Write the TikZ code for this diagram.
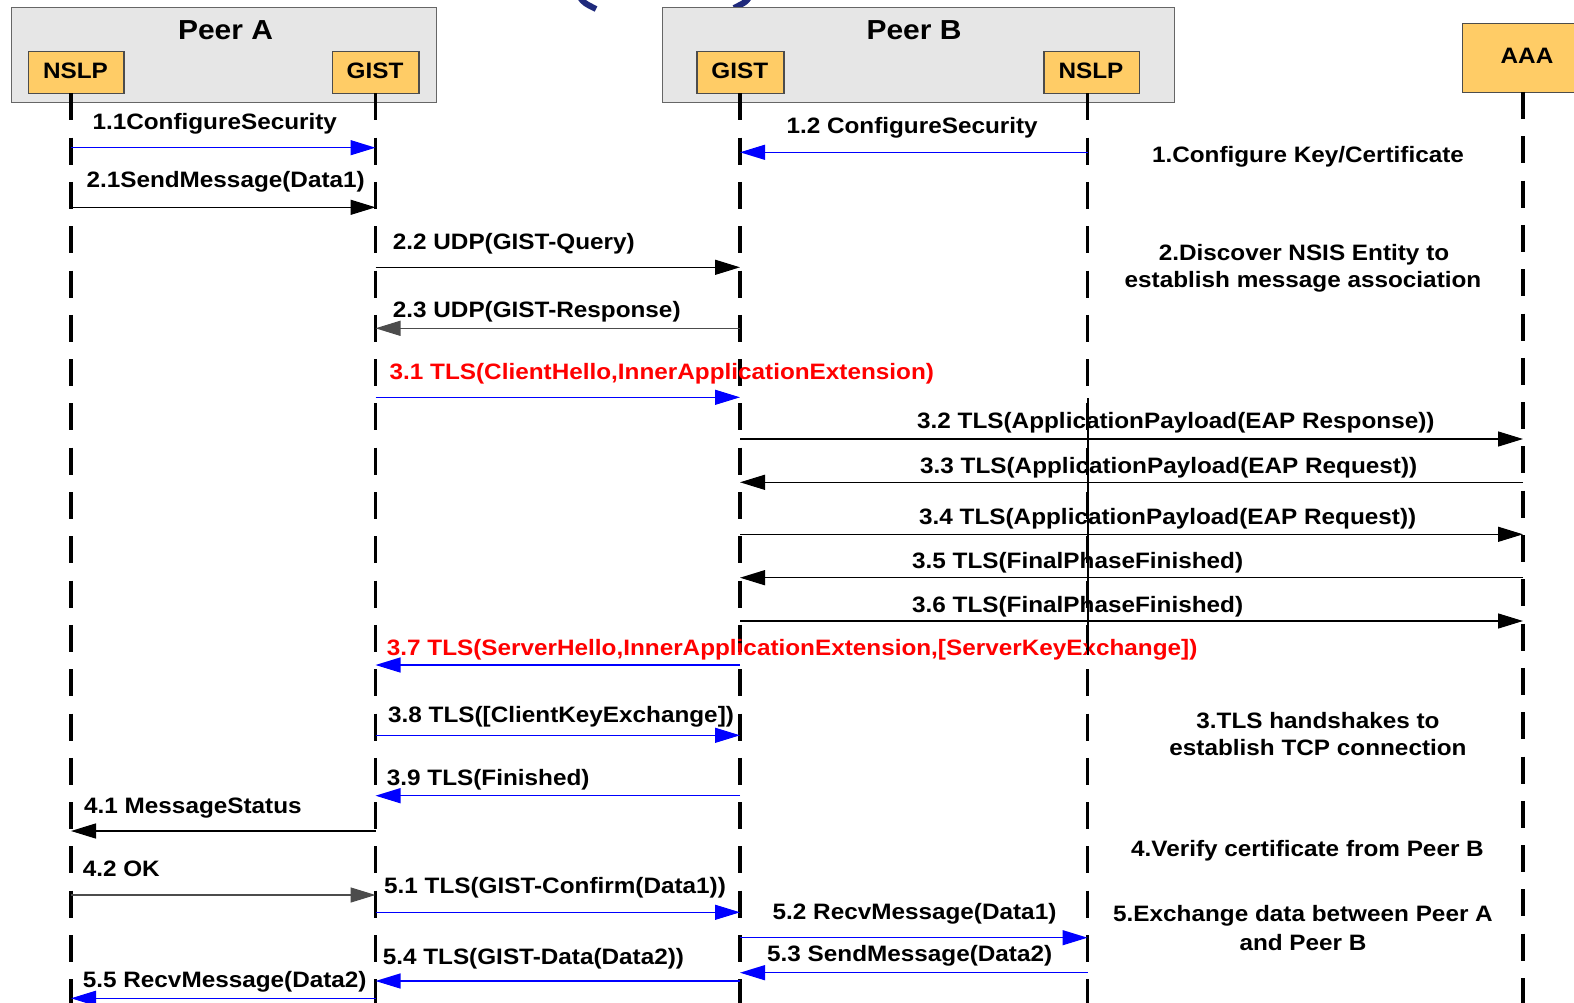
\documentclass[tikz,border=0pt]{standalone}
\usepackage{fontspec}
\setmainfont{Liberation Sans}[FakeStretch=1.09]
\usetikzlibrary{arrows.meta}
\definecolor{peerfill}{HTML}{E6E6E6}
\definecolor{entityfill}{HTML}{FFCC66}
\definecolor{navy}{HTML}{1F2A7C}
\begin{document}
\begin{tikzpicture}[x=1pt,y=-1pt,
  font=\fontsize{22.3}{26}\selectfont\bfseries,
  peer/.style={draw=black!60, line width=1.2pt, fill=peerfill, inner sep=0pt, anchor=north west},
  entity/.style={draw=black!70, line width=1.2pt, fill=entityfill, inner sep=0pt, anchor=north west},
  lifeline/.style={line width=3.2pt, dash pattern=on 27pt off 17.3pt},
  msg/.style={line width=1.4pt, -{Triangle[length=25pt,width=15pt]}},
  greymsg/.style={msg, black!70},
  sec/.style={line width=1.3pt, blue, -{Triangle[length=25pt,width=15pt]}},
  lbl/.style={anchor=base west, inner sep=0pt},
  redlbl/.style={lbl, red},
  note/.style={anchor=base, inner sep=0pt},
  head/.style={note, font=\fontsize{27.5}{32}\selectfont\bfseries}]

\useasboundingbox (0,0) rectangle (1574,1003);
\fill[white] (0,0) rectangle (1574,1003);

% bottom ends of the brackets of a heading above the frame
\draw[navy, line width=6pt] (579,-4) .. controls (584,3) .. (596,9);
\draw[navy, line width=6pt] (750,-4) .. controls (746,2) .. (734,8);

% peers and entities
\node[peer, minimum width=425.3pt, minimum height=94.4pt] (peerA) at (10.7,7.3) {};
\node[peer, minimum width=512pt, minimum height=95pt] (peerB) at (662,7.3) {};
\node[head] (peerAt) at (225.5,39.3) {Peer A};
\node[head] (peerBt) at (914,40) {Peer B};

\node[entity, minimum width=95.6pt, minimum height=42.6pt] (nslpA) at (27.7,50.7) {};
\node[entity, minimum width=86.6pt, minimum height=42.6pt] (gistA) at (331.7,50.7) {};
\node[entity, minimum width=87.1pt, minimum height=42.6pt] (gistB) at (696.3,50.7) {};
\node[entity, minimum width=95.3pt, minimum height=42.6pt] (nslpB) at (1043.4,50.7) {};
\node[entity, minimum width=130pt, minimum height=69pt] (aaa) at (1462,23) {};
\node[note] (nslpAt) at (75.5,78.3) {NSLP};
\node[note] (gistAt) at (375,78.3) {GIST};
\node[note] (gistBt) at (739.8,78.3) {GIST};
\node[note] (nslpBt) at (1091,78.3) {NSLP};
\node[note] (aaat) at (1527,64) {AAA};

% lifelines
\coordinate (NA) at (71,93.3);
\coordinate (GA) at (375.5,93.3);
\coordinate (GB) at (740,93.3);
\coordinate (NB) at (1087.5,93.3);
\coordinate (AA) at (1523,92);
\coordinate (bot) at (0,1010);
\foreach \l in {NA,GA,GB,NB,AA}
  \draw[lifeline] (\l) -- (\l |- bot);

% step 1
\node[lbl] (l11) at (92.3,130) {1.1ConfigureSecurity};
\draw[sec] (NA |- 0,147.7) -- (GA |- 0,147.7);
\node[lbl] (l12) at (786.3,133.3) {1.2 ConfigureSecurity};
\draw[sec] (NB |- 0,152.3) -- (GB |- 0,152.3);
\node[note] (n1) at (1308,163) {1.Configure Key/Certificate};

% step 2
\node[lbl] (l21) at (86.3,188) {2.1SendMessage(Data1)};
\draw[msg] (NA |- 0,207.3) -- (GA |- 0,207.3);
\node[lbl] (l22) at (392.7,249) {2.2 UDP(GIST-Query)};
\draw[msg] (GA |- 0,267.3) -- (GB |- 0,267.3);
\node[lbl] (l23) at (392.7,317.5) {2.3 UDP(GIST-Response)};
\draw[greymsg] (GB |- 0,328.3) -- (GA |- 0,328.3);
\node[note] (n2a) at (1304,260) {2.Discover NSIS Entity to};
\node[note] (n2b) at (1303,287.3) {establish message association};

% step 3
\node[redlbl] (l31) at (389.5,379) {3.1 TLS(ClientHello,InnerApplicationExtension)};
\draw[sec] (GA |- 0,397.3) -- (GB |- 0,397.3);
\node[lbl] (l32) at (917,428) {3.2 TLS(ApplicationPayload(EAP Response))};
\draw[msg] (GB |- 0,439) -- (AA |- 0,439);
\node[lbl] (l33) at (920,473) {3.3 TLS(ApplicationPayload(EAP Request))};
\draw[msg] (AA |- 0,482.3) -- (GB |- 0,482.3);
\node[lbl] (l34) at (919,524) {3.4 TLS(ApplicationPayload(EAP Request))};
\draw[msg] (GB |- 0,534.3) -- (AA |- 0,534.3);
\node[lbl] (l35) at (912,568) {3.5 TLS(FinalPhaseFinished)};
\draw[msg] (AA |- 0,577.7) -- (GB |- 0,577.7);
\node[lbl] (l36) at (912,612) {3.6 TLS(FinalPhaseFinished)};
\draw[msg] (GB |- 0,621) -- (AA |- 0,621);
\node[redlbl] (l37) at (386.7,655) {3.7 TLS(ServerHello,InnerApplicationExtension,[ServerKeyExchange])};
\draw[sec] (GB |- 0,665) -- (GA |- 0,665);
\node[lbl] (l38) at (388,722) {3.8 TLS([ClientKeyExchange])};
\draw[sec] (GA |- 0,735.3) -- (GB |- 0,735.3);
\node[lbl] (l39) at (386.7,785) {3.9 TLS(Finished)};
\draw[sec] (GB |- 0,795.7) -- (GA |- 0,795.7);
\node[note] (n3a) at (1318,728) {3.TLS handshakes to};
\node[note] (n3b) at (1318,755) {establish TCP connection};

% the NSLP lifeline of Peer B runs solid across the handshake labels
\draw[line width=2pt] (NB |- 0,398) -- (NB |- 0,655);

% step 4
\node[lbl] (l41) at (84,813) {4.1 MessageStatus};
\draw[msg] (GA |- 0,831) -- (NA |- 0,831);
\node[lbl] (l42) at (82.6,876) {4.2 OK};
\draw[greymsg] (NA |- 0,895) -- (GA |- 0,895);
\node[note] (n4) at (1307.5,856) {4.Verify certificate from Peer B};

% step 5
\node[lbl] (l51) at (384,893) {5.1 TLS(GIST-Confirm(Data1))};
\draw[sec] (GA |- 0,912.3) -- (GB |- 0,912.3);
\node[lbl] (l52) at (772.5,919) {5.2 RecvMessage(Data1)};
\draw[sec] (GB |- 0,937.7) -- (NB |- 0,937.7);
\node[lbl] (l53) at (767,961) {5.3 SendMessage(Data2)};
\draw[sec] (NB |- 0,972.7) -- (GB |- 0,972.7);
\node[lbl] (l54) at (382.6,964) {5.4 TLS(GIST-Data(Data2))};
\draw[sec] (GB |- 0,981) -- (GA |- 0,981);
\node[lbl] (l55) at (82.7,987) {5.5 RecvMessage(Data2)};
\draw[sec] (GA |- 0,998.3) -- (NA |- 0,998.3);
\node[note] (n5a) at (1303,921) {5.Exchange data between Peer A};
\node[note] (n5b) at (1303,950) {and Peer B};
\end{tikzpicture}
\end{document}
